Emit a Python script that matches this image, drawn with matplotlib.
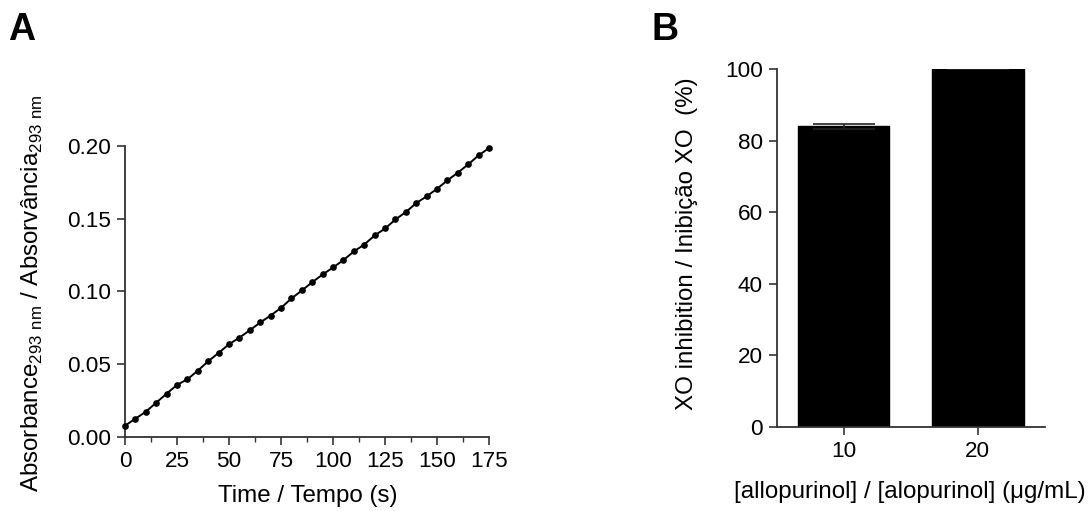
import matplotlib
matplotlib.use("Agg")
import matplotlib.pyplot as plt
from matplotlib.ticker import MultipleLocator

plt.rcParams['font.family'] = ['Liberation Sans', 'DejaVu Sans']
plt.rcParams['mathtext.fontset'] = 'custom'
plt.rcParams['mathtext.rm'] = 'Liberation Sans'

# Panel A data
time_s = [0, 5, 10, 15, 20, 25, 30, 35, 40, 45, 50, 55, 60, 65, 70, 75, 80, 85,
          90, 95, 100, 105, 110, 115, 120, 125, 130, 135, 140, 145, 150, 155,
          160, 165, 170, 175]
absorbance = [0.0078, 0.0126, 0.0174, 0.0236, 0.0298, 0.0358, 0.0397, 0.0456,
              0.0521, 0.0578, 0.0638, 0.0683, 0.0734, 0.0787, 0.0835, 0.0888,
              0.0952, 0.1007, 0.1064, 0.1117, 0.1165, 0.1216, 0.1275, 0.1323,
              0.1385, 0.1433, 0.1495, 0.1546, 0.1608, 0.1654, 0.1706, 0.1764,
              0.1817, 0.1874, 0.1936, 0.1986]
a_xticks = [0, 25, 50, 75, 100, 125, 150, 175]
a_yticks = [0.00, 0.05, 0.10, 0.15, 0.20]
a_yticklabels = ['0.00', '0.05', '0.10', '0.15', '0.20']

# Panel B data
conc_labels = ['10', '20']
inhibition = [84.0, 100.0]
inhibition_err = [0.6, 0.0]
b_yticks = [0, 20, 40, 60, 80, 100]

spine_col = '#333333'
fs = 17.4
tfs = 16.2

fig = plt.figure(figsize=(10.9, 5.11), dpi=100)

# ---- Panel A ----
axA = fig.add_axes([0.1147, 0.1448, 0.334, 0.5695])
axA.plot(time_s, absorbance, color='black', lw=1.4, marker='o', ms=3.8,
         clip_on=False, zorder=3)
axA.set_xlim(0, 175)
axA.set_ylim(0, 0.20)
axA.set_xticks(a_xticks)
axA.xaxis.set_minor_locator(MultipleLocator(12.5))
axA.set_yticks(a_yticks)
axA.set_yticklabels(a_yticklabels)
for s in ['top', 'right']:
    axA.spines[s].set_visible(False)
for s in ['left', 'bottom']:
    axA.spines[s].set_color(spine_col)
    axA.spines[s].set_linewidth(1.3)
axA.tick_params(axis='both', which='major', direction='out', length=6,
                width=1.2, color=spine_col, labelsize=tfs, pad=4)
axA.tick_params(axis='x', which='minor', direction='out', length=3.5,
                width=1.0, color=spine_col)

fig.text(32 / 1090, 1 - 293 / 511,
         r'Absorbance$_{\rm 293\ nm}$ / Absorvância$_{\rm 293\ nm}$',
         rotation=90, ha='center', va='center', fontsize=fs)
fig.text(307.5 / 1090, 1 - 496 / 511, 'Time / Tempo (s)',
         ha='center', va='center', fontsize=fs)
fig.text(8 / 1090, 1 - 30 / 511, 'A', fontsize=27, fontweight='bold',
         ha='left', va='center')

# ---- Panel B ----
axB = fig.add_axes([0.7126, 0.165, 0.2461, 0.6994])
xpos = list(range(len(conc_labels)))
axB.bar(xpos, inhibition, width=0.68, color='black', edgecolor='black',
        yerr=inhibition_err, error_kw=dict(ecolor='#222222', elinewidth=1.2,
                                           capsize=22, capthick=1.2))
axB.set_xlim(-0.5, 1.5)
axB.set_ylim(0, 100)
axB.set_xticks(xpos)
axB.set_xticklabels(conc_labels)
axB.set_yticks(b_yticks)
for s in ['top', 'right']:
    axB.spines[s].set_visible(False)
for s in ['left', 'bottom']:
    axB.spines[s].set_color(spine_col)
    axB.spines[s].set_linewidth(1.3)
axB.tick_params(axis='both', which='major', direction='out', length=6,
                width=1.2, color=spine_col, labelsize=tfs, pad=4)

fig.text(686.7 / 1090, 1 - 244 / 511, 'XO inhibition / Inibição XO  (%)',
         rotation=90, ha='center', va='center', fontsize=fs)
fig.text(910 / 1090, 1 - 491.7 / 511, '[allopurinol] / [alopurinol] (μg/mL)',
         ha='center', va='center', fontsize=fs)
fig.text(651 / 1090, 1 - 30 / 511, 'B', fontsize=27, fontweight='bold',
         ha='left', va='center')

fig.savefig('out.png', dpi=100, facecolor='white')
